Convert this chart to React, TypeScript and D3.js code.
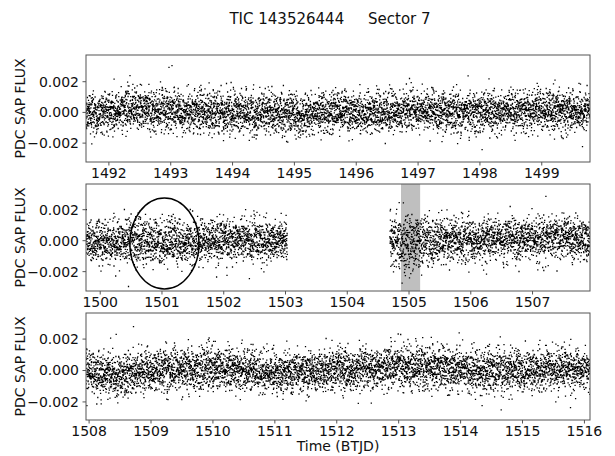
import * as d3 from 'd3';
import { useMemo } from 'react';

// panel time windows (BTJD) and flux ranges
const panelXDomains = [
  [1491.63, 1499.78],
  [1499.77, 1507.93],
  [1507.95, 1516.09],
];
const panelYDomains = [
  [-0.00323, 0.00374],
  [-0.00325, 0.00366],
  [-0.00315, 0.00366],
];
const xTicks = [
  [1492, 1493, 1494, 1495, 1496, 1497, 1498, 1499],
  [1500, 1501, 1502, 1503, 1504, 1505, 1506, 1507],
  [1508, 1509, 1510, 1511, 1512, 1513, 1514, 1515, 1516],
];
const yTicks = [-0.002, 0, 0.002];

// stretches of time with observations in each panel
const segments = [
  [[1491.63, 1499.78]],
  [[1499.77, 1503.03], [1504.69, 1507.93]],
  [[1507.95, 1516.09]],
];

// local median of the flux cloud, read per panel
const trendTimes = [
  [1491.6, 1492.5, 1493, 1494, 1495, 1496, 1497, 1498, 1499, 1499.8],
  [1499.8, 1501, 1502, 1503, 1504.7, 1505, 1505.5, 1506, 1507, 1507.9],
  [1508, 1508.5, 1509, 1510, 1511, 1512, 1513, 1514, 1515, 1516.1],
];
const trendValues = [
  [0.0, 0.0002, 0.0001, 0.0, -0.0001, 0.0, 0.0001, 0.0, 0.0001, 0.0001],
  [0.0, -0.0001, 0.0, 0.0, 0.0, -0.0002, 0.0001, 0.0, 0.0002, 0.0001],
  [0.0, -0.0003, 0.0, 0.0001, -0.0001, 0.0, 0.0002, 0.0001, 0.0, 0.0001],
];
// spread of the cloud around that median
const spreadValues = [
  [0.00065, 0.00065, 0.00065, 0.00065, 0.00065, 0.00065, 0.00065, 0.00065, 0.00065, 0.00065],
  [0.00062, 0.00072, 0.00062, 0.00062, 0.0009, 0.00095, 0.00068, 0.00065, 0.00068, 0.00065],
  [0.00065, 0.00068, 0.00065, 0.00062, 0.00062, 0.00062, 0.00065, 0.00065, 0.00065, 0.00065],
];
const pointsPerDay = 720;

// highlighted features in the middle panel
const shadedSpan = [1504.87, 1505.18];
const ellipseCenter = [1501.04, -0.00018];
const ellipseRadii = [0.56, 0.00294];

const title = 'TIC 143526444\u00a0\u00a0\u00a0\u00a0\u00a0Sector 7';
const yLabel = 'PDC SAP FLUX';
const xLabel = 'Time (BTJD)';

const W = 615;
const H = 456;
const left = 86;
const plotW = 504;
const tops = [55, 184, 313];
const plotH = 107;
const font = 'DejaVu Sans, sans-serif';
const fmt = (v: number) => d3.format('.3f')(v).replace('-', '\u2212');

function usePanelPoints(i: number) {
  return useMemo(() => {
    const lcg = d3.randomLcg(0.137 + i * 0.211);
    const normal = d3.randomNormal.source(lcg)(0, 1);
    const trend = d3.scaleLinear().domain(trendTimes[i]).range(trendValues[i]).clamp(true);
    const spread = d3.scaleLinear().domain(trendTimes[i]).range(spreadValues[i]).clamp(true);
    const pts: [number, number][] = [];
    segments[i].forEach(([t0, t1]) => {
      const n = Math.round((t1 - t0) * pointsPerDay);
      for (let k = 0; k < n; k++) {
        const t = t0 + ((t1 - t0) * k) / n;
        let z = normal();
        if (lcg() < 0.03) z *= 1.5;
        pts.push([t, trend(t) + spread(t) * z]);
      }
    });
    return pts;
  }, [i]);
}

const Panel = ({ i }: { i: number }) => {
  const top = tops[i];
  const x = d3.scaleLinear().domain(panelXDomains[i]).range([left, left + plotW]);
  const y = d3.scaleLinear().domain(panelYDomains[i]).range([top + plotH, top]);
  const pts = usePanelPoints(i);
  const dots = pts
    .filter((p) => p[1] >= panelYDomains[i][0] && p[1] <= panelYDomains[i][1])
    .map((p) => `M${x(p[0]).toFixed(1)},${y(p[1]).toFixed(1)}h1.3v1.3h-1.3z`)
    .join('');
  const clipId = `clip${i}`;
  return (
    <g>
      <defs>
        <clipPath id={clipId}>
          <rect x={left} y={top} width={plotW} height={plotH} />
        </clipPath>
      </defs>
      <g clipPath={`url(#${clipId})`}>
        {i === 1 && (
          <rect
            x={x(shadedSpan[0])}
            y={top}
            width={x(shadedSpan[1]) - x(shadedSpan[0])}
            height={plotH}
            fill="#bfbfbf"
          />
        )}
        <path d={dots} fill="#000" transform="translate(-0.65,-0.65)" />
        {i === 1 && (
          <ellipse
            cx={x(ellipseCenter[0])}
            cy={y(ellipseCenter[1])}
            rx={x(ellipseCenter[0] + ellipseRadii[0]) - x(ellipseCenter[0])}
            ry={y(ellipseCenter[1] - ellipseRadii[1]) - y(ellipseCenter[1])}
            fill="none"
            stroke="#000"
            strokeWidth={1.5}
          />
        )}
      </g>
      <rect x={left} y={top} width={plotW} height={plotH} fill="none" stroke="#555" strokeWidth={1} />
      {yTicks.map((v) => (
        <g key={v}>
          <line x1={left - 3.5} x2={left} y1={y(v)} y2={y(v)} stroke="#555" />
          <text x={left - 7} y={y(v)} dy="0.35em" textAnchor="end" fontSize={14} fontFamily={font} fill="#111">
            {fmt(v)}
          </text>
        </g>
      ))}
      {xTicks[i].map((v) => (
        <g key={v}>
          <line x1={x(v)} x2={x(v)} y1={top + plotH} y2={top + plotH + 3.5} stroke="#555" />
          <text x={x(v)} y={top + plotH + 16} textAnchor="middle" fontSize={14} fontFamily={font} fill="#111">
            {v}
          </text>
        </g>
      ))}
      <text
        transform={`translate(25,${top + plotH / 2}) rotate(-90)`}
        textAnchor="middle"
        fontSize={14}
        fontFamily={font}
        fill="#111"
      >
        {yLabel}
      </text>
    </g>
  );
};

export default function App() {
  return (
    <svg width={W} height={H} style={{ position: 'absolute', left: 0, top: 0, background: '#fff' }}>
      <rect width={W} height={H} fill="#fff" />
      <text x={330} y={24} textAnchor="middle" fontSize={15} fontFamily={font} fill="#111">
        {title}
      </text>
      {[0, 1, 2].map((i) => (
        <Panel key={i} i={i} />
      ))}
      <text x={left + plotW / 2} y={451} textAnchor="middle" fontSize={14} fontFamily={font} fill="#111">
        {xLabel}
      </text>
    </svg>
  );
}
